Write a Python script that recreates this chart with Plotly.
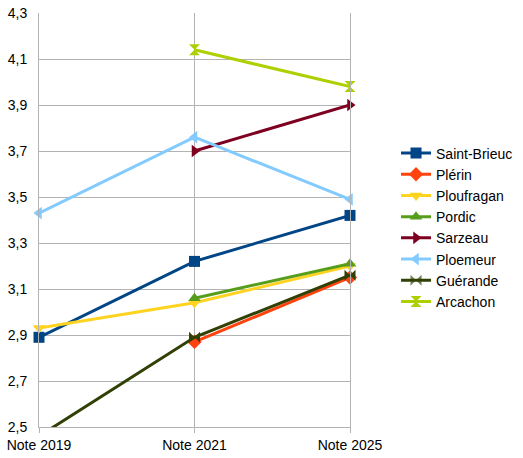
import plotly.graph_objects as go

CATEGORIES = ["Note 2019", "Note 2021", "Note 2025"]

SAINT_BRIEUC = [2.89, 3.22, 3.42]
PLERIN = [None, 2.87, 3.15]
PLOUFRAGAN = [2.93, 3.04, 3.20]
PORDIC = [None, 3.06, 3.21]
SARZEAU = [None, 3.70, 3.90]
PLOEMEUR = [3.43, 3.76, 3.49]
GUERANDE = [2.46, 2.89, 3.16]
ARCACHON = [None, 4.14, 3.98]

Y_TICKS = [2.5, 2.7, 2.9, 3.1, 3.3, 3.5, 3.7, 3.9, 4.1, 4.3]
Y_MIN, Y_MAX = 2.5, 4.3

series = [
    ("Saint-Brieuc", SAINT_BRIEUC, "#004586", "square"),
    ("Plérin", PLERIN, "#ff420e", "diamond"),
    ("Ploufragan", PLOUFRAGAN, "#ffd320", "triangle-down"),
    ("Pordic", PORDIC, "#579d1c", "triangle-up"),
    ("Sarzeau", SARZEAU, "#7e0021", "triangle-right"),
    ("Ploemeur", PLOEMEUR, "#83caff", "triangle-left"),
    ("Guérande", GUERANDE, "#314004", "bowtie"),
    ("Arcachon", ARCACHON, "#aecf00", "hourglass"),
]

GRID = "#b3b3b3"

fig = go.Figure()
for name, values, color, symbol in series:
    # markers stay whole at the plot edge, but points off the axis range are hidden
    off_axis = any(v is not None and not (Y_MIN <= v <= Y_MAX) for v in values)
    opacity = [0 if v is not None and not (Y_MIN <= v <= Y_MAX) else 1 for v in values]
    fig.add_trace(
        go.Scatter(
            x=CATEGORIES,
            y=values,
            name=name,
            mode="lines+markers",
            line=dict(color=color, width=3),
            marker=dict(
                color=color,
                symbol=symbol,
                size=11,
                opacity=opacity if off_axis else 1,
            ),
            cliponaxis=False,
        )
    )

fig.update_layout(
    width=523,
    height=458,
    plot_bgcolor="white",
    paper_bgcolor="white",
    separators=", ",
    font=dict(family="Liberation Sans", size=14, color="#000000"),
    margin=dict(l=39, r=173, t=13, b=31, autoexpand=False),
    legend=dict(
        x=1.148,
        y=0.482,
        xanchor="left",
        yanchor="middle",
        font=dict(size=14),
        tracegroupgap=0,
        itemwidth=30,
    ),
    xaxis=dict(
        type="category",
        range=[0, 2],
        showgrid=True,
        gridcolor=GRID,
        gridwidth=1,
        showline=True,
        linecolor=GRID,
        ticks="outside",
        ticklen=5,
        tickcolor=GRID,
        tickfont=dict(size=14),
        zeroline=False,
        automargin=False,
    ),
    yaxis=dict(
        range=[Y_MIN, Y_MAX],
        tickvals=Y_TICKS,
        tickformat=".1f",
        tickfont=dict(size=14),
        ticklabelstandoff=8,
        showgrid=True,
        gridcolor=GRID,
        gridwidth=1,
        showline=True,
        linecolor=GRID,
        mirror=True,
        zeroline=False,
        ticks="",
        automargin=False,
    ),
)

# the page body has a default 8px margin; drop it so the chart fills the window
fig.write_html(
    "out.html",
    config={"displayModeBar": False},
    post_script="document.body.style.margin = '0';",
)
